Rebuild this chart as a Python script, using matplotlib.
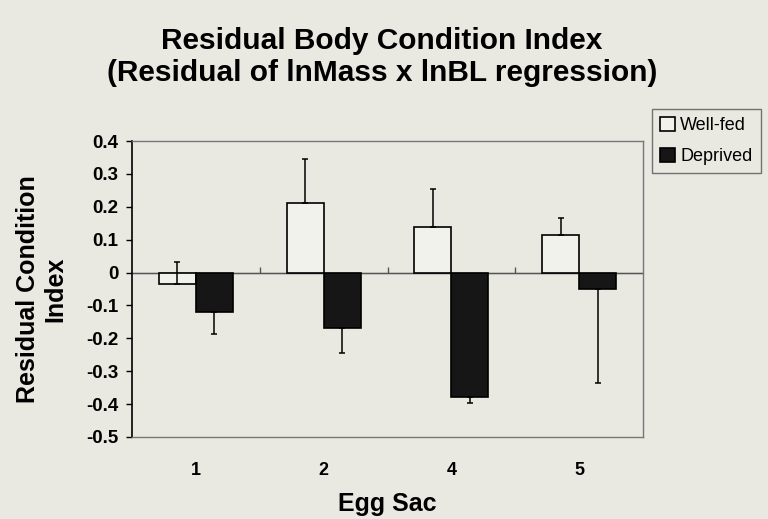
import numpy as np
import matplotlib.pyplot as plt

# data
egg_sacs = ['1', '2', '4', '5']
well_fed = [-0.034, 0.210, 0.140, 0.115]
well_fed_err = [0.066, 0.135, 0.113, 0.050]   # drawn upward only
deprived = [-0.120, -0.168, -0.378, -0.049]
deprived_err = [0.066, 0.078, 0.018, 0.288]   # drawn downward only

bg = '#e9e9e1'
plt.rcParams['font.family'] = ['Liberation Sans', 'DejaVu Sans']

fig = plt.figure(figsize=(7.68, 5.19), dpi=100, facecolor=bg)
ax = fig.add_axes([0.1719, 0.158, 0.6654, 0.5703], facecolor=bg)

x = np.arange(len(egg_sacs))
w = 0.29

ax.bar(x - w/2, well_fed, w, color='#f2f2ec', edgecolor='black', linewidth=1.2,
       label='Well-fed', zorder=3)
ax.bar(x + w/2, deprived, w, color='#161616', edgecolor='black', linewidth=1.2,
       label='Deprived', zorder=3)

ax.errorbar(x - w/2, well_fed, yerr=[np.zeros(4), well_fed_err], fmt='none',
            ecolor='black', elinewidth=1.1, capsize=2.5, capthick=1.1, zorder=4)
ax.errorbar(x + w/2, deprived, yerr=[deprived_err, np.zeros(4)], fmt='none',
            ecolor='black', elinewidth=1.1, capsize=2.5, capthick=1.1, zorder=4)

ax.axhline(0, color='#555555', linewidth=1.0, zorder=2)

ax.set_xlim(-0.5, len(egg_sacs) - 0.5)
ax.set_ylim(-0.5, 0.4)
ax.set_yticks(np.arange(-0.5, 0.41, 0.1))
ax.set_yticklabels(['-0.5', '-0.4', '-0.3', '-0.2', '-0.1', '0', '0.1', '0.2', '0.3', '0.4'],
                   fontsize=13.5, fontweight='bold')
ax.set_xticks(x)
ax.set_xticklabels(egg_sacs, fontsize=13, fontweight='bold')
ax.tick_params(axis='x', length=0, pad=18)
ax.tick_params(axis='y', direction='out', length=4, width=1, pad=6)

# small ticks between groups on the zero line
zx = ax.secondary_xaxis(0.5 / 0.9)
zx.set_xticks(np.arange(0.5, len(egg_sacs) - 1, 1.0))
zx.set_xticklabels([])
zx.tick_params(direction='out', length=4, width=1, color='#555555')
zx.spines['bottom'].set_visible(False)

for s in ['top', 'right', 'bottom']:
    ax.spines[s].set_color('#777777')
    ax.spines[s].set_linewidth(1.0)
ax.spines['left'].set_color('black')
ax.spines['left'].set_linewidth(1.2)

ax.set_xlabel('Egg Sac', fontsize=18, fontweight='bold')
ax.xaxis.set_label_coords(0.5, -0.185)
ax.set_ylabel('Residual Condition\nIndex', fontsize=18, fontweight='bold', labelpad=13)

fig.suptitle('Residual Body Condition Index\n(Residual of lnMass x lnBL regression)',
             x=0.497, y=0.948, fontsize=21.5, fontweight='bold', linespacing=1.2)

leg = ax.legend(loc='upper left', bbox_to_anchor=(1.018, 1.108), borderaxespad=0,
                fontsize=13, frameon=True, fancybox=False, handlelength=0.8,
                handleheight=0.8, handletextpad=0.3, borderpad=0.45, labelspacing=0.75)
leg.get_frame().set_edgecolor('#555555')
leg.get_frame().set_facecolor(bg)
leg.get_frame().set_linewidth(1.0)

fig.savefig('out.png', dpi=100, facecolor=bg)
